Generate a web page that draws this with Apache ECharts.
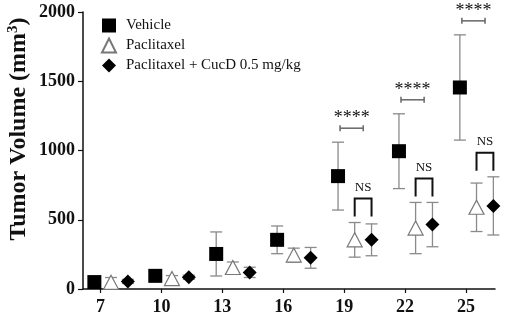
<!DOCTYPE html>
<html>
<head>
<meta charset="utf-8">
<script src="https://cdn.jsdelivr.net/npm/echarts@6/dist/echarts.min.js"></script>
<style>html,body{margin:0;padding:0;background:#fff}#c{width:505px;height:317px}</style>
</head>
<body>
<div id="c"></div>
<script>
// ---- data ----
const days = [7, 10, 13, 16, 19, 22, 25];
const vehicleMean = [50, 95, 253, 355, 815, 995, 1455];
const vehicleErr = [10, 15, 159, 100, 245, 270, 380];
const paclitaxelMean = [48, 75, 155, 245, 355, 440, 590];
const paclitaxelErr = [35, 22, 40, 50, 125, 185, 175];
const cucdMean = [55, 85, 120, 225, 355, 465, 600];
const cucdErr = [15, 15, 37, 75, 115, 160, 210];
const yTicks = [0, 500, 1000, 1500, 2000];
const seriesNames = ['Vehicle', 'Paclitaxel', 'Paclitaxel + CucD 0.5 mg/kg'];
const sigDays = [19, 22, 25];
const sigVehicleLabel = '****';
const sigTreatLabel = 'NS';

// ---- layout / style ----
const OFF = [-0.3, 0.52, 1.35];
const SERIF = '"Liberation Serif", "Times New Roman", serif';
const ERR_COLOR = '#8a8a8a';

function pts(mean, k) { return days.map((d, i) => [d + OFF[k], mean[i]]); }
function errs(mean, err, k) { return days.map((d, i) => [d + OFF[k], mean[i] - err[i], mean[i] + err[i]]); }

function errRender(params, api) {
  const x = api.value(0), lo = api.value(1), hi = api.value(2);
  const t = api.coord([x, hi]), b = api.coord([x, lo]);
  const hw = 6;
  const st = { stroke: ERR_COLOR, lineWidth: 1.3 };
  return { type: 'group', children: [
    { type: 'line', shape: { x1: t[0], y1: t[1], x2: b[0], y2: b[1] }, style: st },
    { type: 'line', shape: { x1: t[0] - hw, y1: t[1], x2: t[0] + hw, y2: t[1] }, style: st },
    { type: 'line', shape: { x1: b[0] - hw, y1: b[1], x2: b[0] + hw, y2: b[1] }, style: st }
  ]};
}

const sigData = sigDays.map(d => {
  const i = days.indexOf(d);
  return [d, vehicleMean[i] + vehicleErr[i], Math.max(paclitaxelMean[i] + paclitaxelErr[i], cucdMean[i] + cucdErr[i])];
});

function sigRender(params, api) {
  const d = api.value(0), vUp = api.value(1), tUp = api.value(2);
  const vy = api.coord([d, vUp])[1];
  const barY = vy - 14;
  const bx1 = api.coord([d - 0.2, 0])[0], bx2 = api.coord([d + 0.94, 0])[0];
  const sx = (bx1 + bx2) / 2;
  const grey = { stroke: '#666', lineWidth: 1.5 };
  const tx1 = api.coord([d + OFF[1], 0])[0], tx2 = api.coord([d + OFF[2], 0])[0];
  const ty = api.coord([d, tUp])[1];
  const bBot = ty - 6, bTop = bBot - 18;
  const blk = { stroke: '#111', lineWidth: 2, fill: null };
  return { type: 'group', children: [
    { type: 'line', shape: { x1: bx1, y1: barY, x2: bx2, y2: barY }, style: grey },
    { type: 'line', shape: { x1: bx1, y1: barY - 3, x2: bx1, y2: barY + 3 }, style: grey },
    { type: 'line', shape: { x1: bx2, y1: barY - 3, x2: bx2, y2: barY + 3 }, style: grey },
    { type: 'text', x: sx, y: barY - 10, style: { text: sigVehicleLabel, font: '18px ' + SERIF, fill: '#111', align: 'center', verticalAlign: 'middle' } },
    { type: 'polyline', shape: { points: [[tx1, bBot], [tx1, bTop], [tx2, bTop], [tx2, bBot]] }, style: blk },
    { type: 'text', x: (tx1 + tx2) / 2, y: bTop - 11, style: { text: sigTreatLabel, font: '13px ' + SERIF, fill: '#111', align: 'center', verticalAlign: 'middle' } }
  ]};
}

const chart = echarts.init(document.getElementById('c'), null, { renderer: 'canvas' });
chart.setOption({
  animation: false,
  backgroundColor: '#fff',
  grid: { left: 83, right: 10, top: 12, bottom: 28, containLabel: false },
  legend: {
    orient: 'vertical', left: 96, top: 13,
    itemWidth: 14, itemHeight: 14, itemGap: 4.5,
    data: seriesNames,
    textStyle: { fontFamily: SERIF, fontSize: 15, color: '#111', lineHeight: 14, padding: [0, 0, 0, 5] }
  },
  xAxis: {
    type: 'value', min: 6.14, max: 26.43,
    splitLine: { show: false },
    axisLine: { lineStyle: { color: '#111', width: 1.5 } },
    axisTick: { customValues: days, length: 4, lineStyle: { color: '#111', width: 1.2 } },
    axisLabel: { customValues: days, fontFamily: SERIF, fontWeight: 'bold', fontSize: 18, color: '#111', margin: 9 }
  },
  yAxis: {
    type: 'value', min: 0, max: 2000, interval: 500,
    splitLine: { show: false },
    axisLine: { show: true, lineStyle: { color: '#111', width: 1.5 } },
    axisTick: { show: true, length: 5, lineStyle: { color: '#111', width: 1.2 } },
    axisLabel: { customValues: yTicks, formatter: v => String(v), fontFamily: SERIF, fontWeight: 'bold', fontSize: 18, color: '#111', margin: 8 }
  },
  graphic: [{
    type: 'text', x: 19, y: 129, rotation: Math.PI / 2,
    style: {
      text: '{a|Tumor Volume (mm}{s|3}{a|)}',
      align: 'center', verticalAlign: 'middle',
      rich: {
        a: { fontFamily: SERIF, fontWeight: 'bold', fontSize: 24, fill: '#111' },
        s: { fontFamily: SERIF, fontWeight: 'bold', fontSize: 15, fill: '#111', verticalAlign: 'top', padding: [0, 0, 12, 0] }
      }
    }
  }],
  series: [
    { type: 'custom', name: 'errV', renderItem: errRender, data: errs(vehicleMean, vehicleErr, 0), encode: { x: 0, y: [1, 2] }, z: 1, silent: true },
    { type: 'custom', name: 'errP', renderItem: errRender, data: errs(paclitaxelMean, paclitaxelErr, 1), encode: { x: 0, y: [1, 2] }, z: 1, silent: true },
    { type: 'custom', name: 'errC', renderItem: errRender, data: errs(cucdMean, cucdErr, 2), encode: { x: 0, y: [1, 2] }, z: 1, silent: true },
    { type: 'scatter', name: seriesNames[0], data: pts(vehicleMean, 0), symbol: 'rect', symbolSize: 14, itemStyle: { color: '#000', opacity: 1 }, z: 3 },
    { type: 'scatter', name: seriesNames[1], data: pts(paclitaxelMean, 1), symbol: 'triangle', symbolSize: [15, 14], itemStyle: { color: '#fff', borderColor: '#777', borderWidth: 1.2, opacity: 1 }, z: 3 },
    { type: 'scatter', name: seriesNames[2], data: pts(cucdMean, 2), symbol: 'diamond', symbolSize: 14, itemStyle: { color: '#000', opacity: 1 }, z: 3 },
    { type: 'custom', name: 'sig', renderItem: sigRender, data: sigData, encode: { x: 0, y: [1, 2] }, clip: false, z: 4, silent: true }
  ]
});
</script>
</body>
</html>
